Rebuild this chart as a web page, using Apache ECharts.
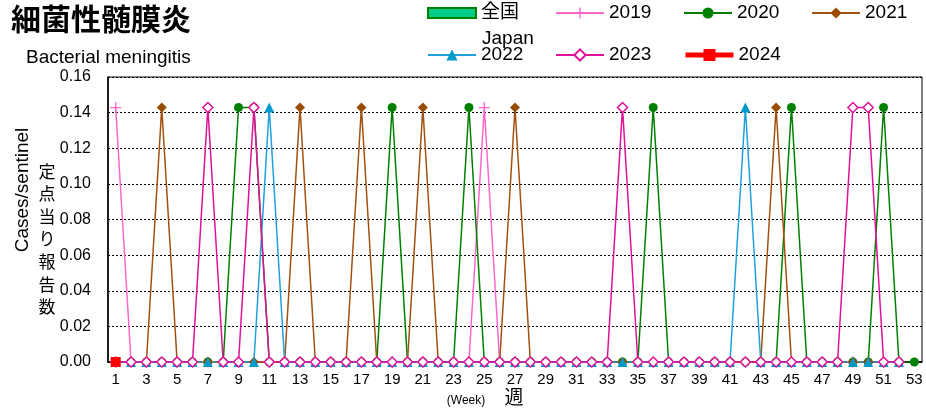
<!DOCTYPE html>
<html>
<head>
<meta charset="utf-8">
<script src="https://cdn.jsdelivr.net/npm/echarts@6/dist/echarts.min.js"></script>
<style>
html,body{margin:0;padding:0;background:#fff;}
#c{width:926px;height:411px;}
</style>
</head>
<body>
<div id="c"></div>
<script>
// ---- data ----
const weeks = Array.from({length: 53}, (_, i) => String(i + 1));
const P = 1 / 7; // one case / 7 sentinels
const peaks2019 = [1, 25];
const peaks2020 = [9, 10, 19, 24, 36, 45, 51];
const peaks2021 = [4, 13, 17, 21, 27, 44];
const peaks2022 = [11, 42];
const peaks2023 = [7, 10, 34, 49, 50];
const weeks2019 = 52, weeks2020 = 53, weeks2021 = 52, weeks2022 = 52, weeks2023 = 52;
const values2024 = [0];
const yTicks = [0, 0.02, 0.04, 0.06, 0.08, 0.10, 0.12, 0.14, 0.16];

function build(n, peaks) {
  const a = [];
  for (let w = 1; w <= n; w++) a.push(peaks.indexOf(w) >= 0 ? P : 0);
  return a;
}
const values2019 = build(weeks2019, peaks2019);
const values2020 = build(weeks2020, peaks2020);
const values2021 = build(weeks2021, peaks2021);
const values2022 = build(weeks2022, peaks2022);
const values2023 = build(weeks2023, peaks2023);

const FONT = "'Liberation Sans', Arial, 'Noto Sans CJK JP', sans-serif";
const JFONT = "'Noto Sans CJK JP', 'Liberation Sans', sans-serif";
const plusPath = 'path://M4.4,0h1.2v4.4h4.4v1.2h-4.4v4.4h-1.2v-4.4h-4.4v-1.2h4.4z';

const chart = echarts.init(document.getElementById('c'), null, {renderer: 'canvas'});

function lg(name, left, top, extra) {
  return Object.assign({
    data: [name], left: left, top: top, padding: 0,
    itemWidth: 48, itemHeight: 14, itemGap: 0,
    textStyle: {fontFamily: FONT, fontSize: 19, color: '#000'},
    selectedMode: false
  }, extra || {});
}

const option = {
  backgroundColor: '#fff',
  animation: false,
  textStyle: {fontFamily: FONT},
  title: [
    {text: '細菌性髄膜炎', left: 11, top: 4, padding: 0,
     textStyle: {fontFamily: JFONT, fontSize: 30, fontWeight: 'bold', color: '#000'}},
    {text: 'Bacterial meningitis', left: 26, top: 48, padding: 0,
     textStyle: {fontFamily: FONT, fontSize: 19, fontWeight: 'normal', color: '#000'}}
  ],
  legend: [
    lg('全国', 427, 3.5, {icon: 'rect', itemHeight: 10}),
    lg('2019', 555, 3.5),
    lg('2020', 683, 3.5),
    lg('2021', 811, 3.5),
    lg('2022', 427, 45.5),
    lg('2023', 555, 45.5),
    lg('2024', 683, 45.5, {lineStyle: {width: 5}, itemHeight: 15})
  ],
  graphic: [
    {type: 'text', left: 482, top: 29, style: {text: 'Japan', font: '19px ' + FONT, fill: '#000'}},
    {type: 'text', x: 23, y: 190, rotation: Math.PI / 2,
     style: {text: 'Cases/sentinel', font: '19px ' + FONT, fill: '#000', textAlign: 'center', textVerticalAlign: 'middle'}},
    {type: 'text', x: 47, y: 239,
     style: {text: '定\n点\n当\nり\n報\n告\n数', font: '17px ' + JFONT, fill: '#000', textAlign: 'center', textVerticalAlign: 'middle', lineHeight: 22.6}},
    {type: 'text', x: 466, y: 401,
     style: {text: '(Week)', font: '12px ' + FONT, fill: '#000', textAlign: 'center', textVerticalAlign: 'middle'}},
    {type: 'text', x: 514, y: 397,
     style: {text: '週', font: '19px ' + JFONT, fill: '#000', textAlign: 'center', textVerticalAlign: 'middle'}}
  ],
  grid: {left: 108, right: 4, top: 77, bottom: 49, show: true, borderColor: '#000', borderWidth: 1, backgroundColor: 'transparent'},
  xAxis: {
    type: 'category', data: weeks, boundaryGap: true,
    axisLine: {lineStyle: {color: '#000', width: 1.5}},
    axisTick: {show: false},
    axisLabel: {interval: 1, fontFamily: FONT, fontSize: 15, color: '#000', margin: 10},
    splitLine: {show: false}
  },
  yAxis: {
    type: 'value', min: yTicks[0], max: yTicks[yTicks.length - 1], interval: 0.02,
    axisLine: {show: true, lineStyle: {color: '#000', width: 1.5}},
    axisTick: {show: false},
    axisLabel: {fontFamily: FONT, fontSize: 16, color: '#000', margin: 17, formatter: v => v.toFixed(2)},
    splitLine: {show: true, lineStyle: {color: '#000', type: [2, 2], width: 1}}
  },
  series: [
    {name: '全国', type: 'bar', data: [], itemStyle: {color: '#00CC88', borderColor: '#008000', borderWidth: 1}},
    {name: '2019', type: 'line', data: values2019, symbol: plusPath, symbolSize: 11,
     lineStyle: {color: '#FF66CC', width: 1.5}, itemStyle: {color: '#FF66CC'}},
    {name: '2020', type: 'line', data: values2020, symbol: 'circle', symbolSize: 9,
     lineStyle: {color: '#008000', width: 1.5}, itemStyle: {color: '#008000'}},
    {name: '2021', type: 'line', data: values2021, symbol: 'diamond', symbolSize: 10,
     lineStyle: {color: '#A0500F', width: 1.5}, itemStyle: {color: '#994C00'}},
    {name: '2022', type: 'line', data: values2022, symbol: 'triangle', symbolSize: 10,
     lineStyle: {color: '#1EA0DC', width: 1.5}, itemStyle: {color: '#0099CC'}},
    {name: '2023', type: 'line', data: values2023, symbol: 'diamond', symbolSize: 10,
     lineStyle: {color: '#E0109A', width: 1.5}, itemStyle: {color: '#FFFFFF', borderColor: '#E0109A', borderWidth: 1.5}},
    {name: '2024', type: 'line', data: values2024, symbol: 'rect', symbolSize: 10,
     lineStyle: {color: '#FF0000', width: 4}, itemStyle: {color: '#FF0000'}}
  ]
};
chart.setOption(option);
</script>
</body>
</html>
